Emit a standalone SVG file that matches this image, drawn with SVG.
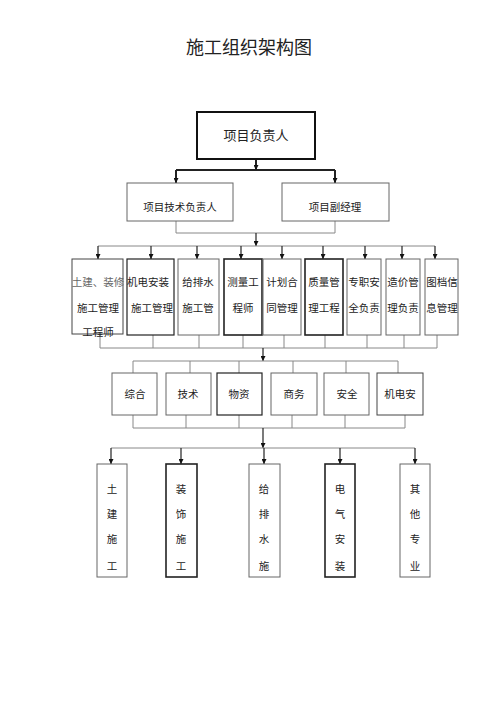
<svg xmlns="http://www.w3.org/2000/svg" width="500" height="708" viewBox="0 0 500 708">
<defs>
<marker id="arr" viewBox="0 0 10 10" refX="10" refY="5" markerWidth="5" markerHeight="5" orient="auto" markerUnits="userSpaceOnUse"><path d="M0,0 L10,5 L0,10 z" fill="#111"/></marker>
</defs>
<style>
text{font-family:"Noto Sans CJK SC","Liberation Sans",sans-serif;fill:#222;text-anchor:middle;}
.t{font-size:10.5px;}
.box{fill:#fff;stroke:#666;stroke-width:1;}
.dk{fill:#fff;stroke:#222;stroke-width:1.6;}
.ln{fill:none;stroke:#888;stroke-width:1;}
.ar{fill:none;stroke:#222;stroke-width:1.2;marker-end:url(#arr);}
.thk{fill:none;stroke:#222;stroke-width:2;}
</style>
<rect width="500" height="708" fill="#fff"/>
<text x="249" y="54" style="font-size:18px">施工组织架构图</text>

<g id="connectors">
<line class="thk" x1="256" y1="159" x2="256" y2="170"/>
<line class="thk" x1="176" y1="170" x2="335" y2="170"/>
<path class="ar" d="M256,163 L256,170"/>
<path class="ar" style="stroke-width:2" d="M176,170 L176,183"/>
<path class="ar" style="stroke-width:2" d="M335,170 L335,183"/>
<path class="ln" d="M176,221 L176,233 L335,233 L335,221"/>
<path class="ar" d="M256,233 L256,246"/>
<line class="ln" x1="98" y1="246" x2="435" y2="246"/>
<path class="ar" d="M98,246 L98,259"/>
<path class="ar" d="M151,246 L151,259"/>
<path class="ar" d="M197,246 L197,259"/>
<path class="ar" d="M241,246 L241,259"/>
<path class="ar" d="M282,246 L282,259"/>
<path class="ar" d="M323,246 L323,259"/>
<path class="ar" d="M365,246 L365,259"/>
<path class="ar" d="M402,246 L402,259"/>
<path class="ar" d="M435,246 L435,259"/>
<path class="ln" d="M100,334 L100,348 L437,348 L437,335 M153,335 L153,348 M199,335 L199,348 M243,335 L243,348 M284,335 L284,348 M325,335 L325,348 M367,335 L367,348 M404,335 L404,348"/>
<path class="ar" d="M263,348 L263,361"/>
<path class="ln" d="M133,373 L133,361 L398,361 L398,373 M190,361 L190,373 M239,361 L239,373 M293,361 L293,373 M346,361 L346,373"/>
<path class="ln" d="M133,415 L133,428 L405,428 L405,415 M186,415 L186,428 M239,415 L239,428 M292,415 L292,428 M345,415 L345,428"/>
<path class="ar" d="M263,428 L263,448"/>
<line class="ln" x1="111" y1="448" x2="415" y2="448"/>
<path class="ar" d="M111,448 L111,464"/>
<path class="ar" d="M181,448 L181,464"/>
<path class="ar" d="M264,448 L264,464"/>
<path class="ar" d="M340,448 L340,464"/>
<path class="ar" d="M415,448 L415,464"/>
</g>

<g id="n-pm"><rect x="197" y="112" width="118" height="47" fill="#fff" stroke="#111" stroke-width="2"/><text x="256" y="140" style="font-size:13px">项目负责人</text></g>
<g id="n-tech"><rect class="box" x="127" y="183" width="106" height="38"/><text class="t" x="180" y="211">项目技术负责人</text></g>
<g id="n-vice"><rect class="box" x="282" y="183" width="107" height="38"/><text class="t" x="335" y="211">项目副经理</text></g>

<g id="n-l3-1"><rect class="box" x="72" y="259" width="51" height="75" style="stroke:#444"/><text class="t" x="98" y="286" style="fill:#666">土建、装修</text><text class="t" x="98" y="312">施工管理</text><text class="t" x="98" y="336">工程师</text></g>
<g id="n-l3-2"><rect class="dk" x="127" y="259" width="47" height="76" style="stroke-width:1.2"/><text class="t" x="148" y="286">机电安装</text><text class="t" x="152" y="312">施工管理</text></g>
<g id="n-l3-3"><rect class="box" x="178" y="259" width="41" height="76"/><text class="t" x="198" y="286">给排水</text><text class="t" x="198" y="312">施工管</text></g>
<g id="n-l3-4"><rect class="dk" x="224" y="259" width="38" height="76"/><text class="t" x="243" y="286">测量工</text><text class="t" x="243" y="312">程师</text></g>
<g id="n-l3-5"><rect class="box" x="263" y="259" width="38" height="76"/><text class="t" x="282" y="286">计划合</text><text class="t" x="282" y="312">同管理</text></g>
<g id="n-l3-6"><rect class="dk" x="305" y="259" width="38" height="76"/><text class="t" x="324" y="286">质量管</text><text class="t" x="324" y="312">理工程</text></g>
<g id="n-l3-7"><rect class="box" x="347" y="259" width="34" height="76"/><text class="t" x="364" y="286">专职安</text><text class="t" x="364" y="312">全负责</text></g>
<g id="n-l3-8"><rect class="box" x="386" y="259" width="34" height="76"/><text class="t" x="403" y="286">造价管</text><text class="t" x="403" y="312">理负责</text></g>
<g id="n-l3-9"><rect class="box" x="425" y="259" width="33" height="76"/><text class="t" x="442" y="286">图档信</text><text class="t" x="442" y="312">息管理</text></g>

<g id="n-l4-1"><rect class="box" x="112" y="373" width="45" height="42"/><text class="t" x="135" y="398">综合</text></g>
<g id="n-l4-2"><rect class="box" x="166" y="373" width="45" height="42"/><text class="t" x="188" y="398">技术</text></g>
<g id="n-l4-3"><rect class="dk" x="217" y="373" width="45" height="42" style="stroke-width:1.2"/><text class="t" x="239" y="398">物资</text></g>
<g id="n-l4-4"><rect class="box" x="271" y="373" width="46" height="42"/><text class="t" x="294" y="398">商务</text></g>
<g id="n-l4-5"><rect class="box" x="324" y="373" width="45" height="42"/><text class="t" x="347" y="398">安全</text></g>
<g id="n-l4-6"><rect class="box" x="377" y="373" width="46" height="42" style="stroke:#444"/><text class="t" x="400" y="398">机电安</text></g>

<g id="n-l5-1"><rect class="box" x="97" y="464" width="30" height="113"/><text class="t" x="112" y="493">土</text><text class="t" x="112" y="518">建</text><text class="t" x="112" y="543">施</text><text class="t" x="112" y="570">工</text></g>
<g id="n-l5-2"><rect class="dk" x="166" y="464" width="31" height="113"/><text class="t" x="181" y="493">装</text><text class="t" x="181" y="518">饰</text><text class="t" x="181" y="543">施</text><text class="t" x="181" y="570">工</text></g>
<g id="n-l5-3"><rect class="box" x="249" y="464" width="31" height="113"/><text class="t" x="264" y="493">给</text><text class="t" x="264" y="518">排</text><text class="t" x="264" y="543">水</text><text class="t" x="264" y="570">施</text></g>
<g id="n-l5-4"><rect class="dk" x="325" y="464" width="30" height="113"/><text class="t" x="340" y="493">电</text><text class="t" x="340" y="518">气</text><text class="t" x="340" y="543">安</text><text class="t" x="340" y="570">装</text></g>
<g id="n-l5-5"><rect class="box" x="400" y="464" width="30" height="113"/><text class="t" x="415" y="493">其</text><text class="t" x="415" y="518">他</text><text class="t" x="415" y="543">专</text><text class="t" x="415" y="570">业</text></g>
</svg>
